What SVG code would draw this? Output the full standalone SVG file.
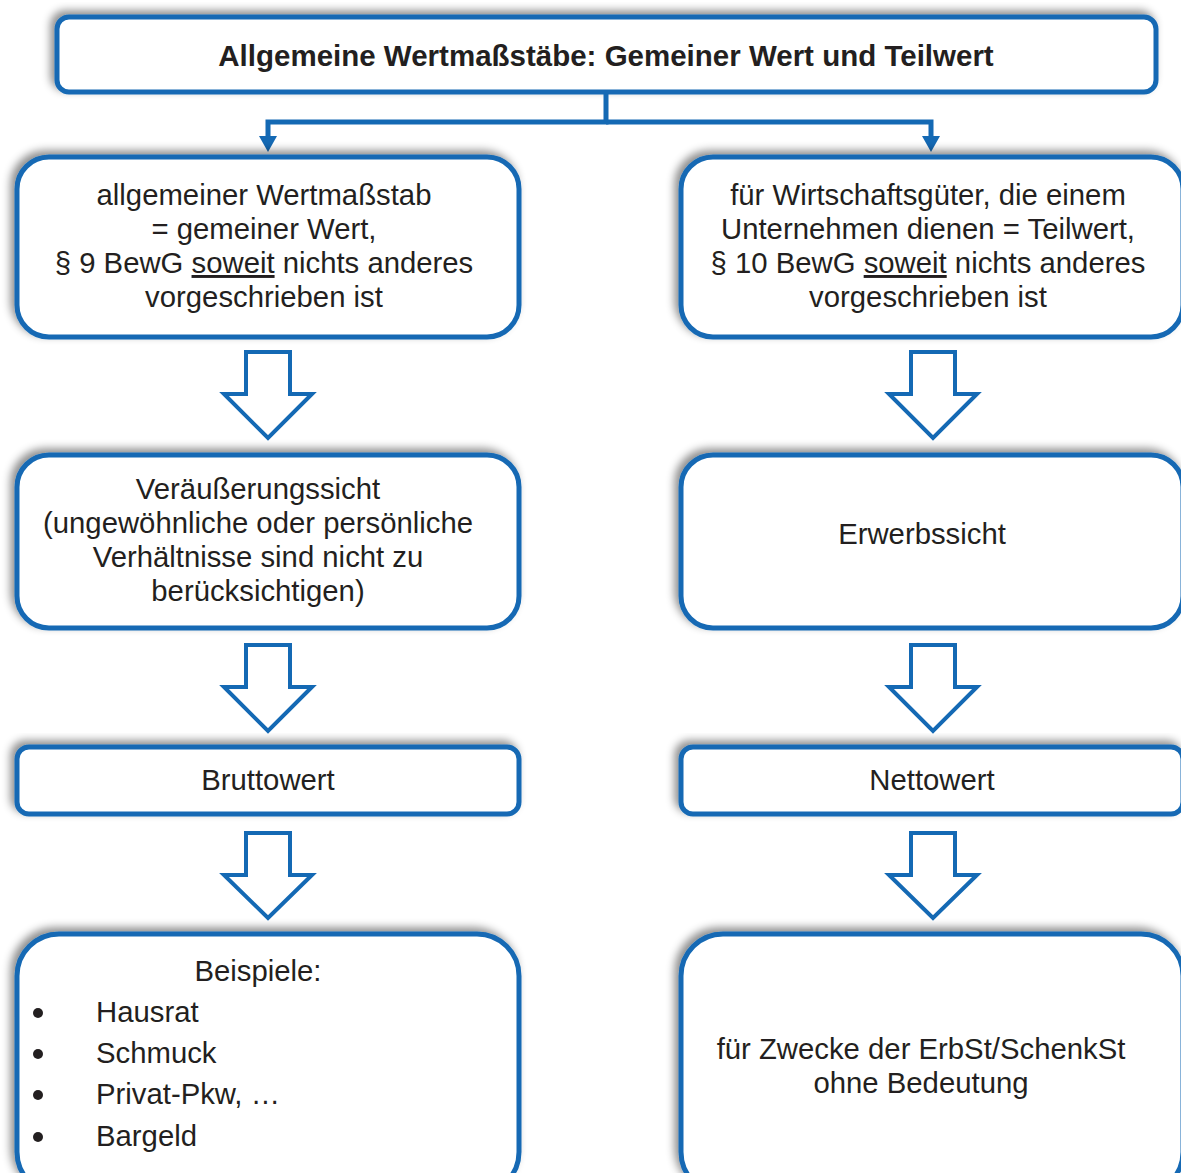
<svg xmlns="http://www.w3.org/2000/svg" width="1181" height="1173" viewBox="0 0 1181 1173">
<defs>
<filter id="sh" x="-10%" y="-20%" width="120%" height="140%">
<feDropShadow dx="-4" dy="-4" stdDeviation="4" flood-color="#000" flood-opacity="0.45"/>
</filter>
</defs>
<style>
.box{fill:#fff;stroke:#1469b4;stroke-width:5;filter:url(#sh)}
.t{font-family:"Liberation Sans",Arial,sans-serif;font-size:29.3px;fill:#231f20;text-anchor:middle}
.tb{font-weight:bold;font-size:29.5px}
.l{text-anchor:start}
.bar{fill:#fff;stroke:#1469b4;stroke-width:4;stroke-linejoin:miter}
.con{fill:none;stroke:#1469b4;stroke-width:5}
</style>
<g id="top">
<rect class="box" x="57" y="17" width="1099" height="75" rx="12"/>
<text class="t tb" x="606" y="66">Allgemeine Wertmaßstäbe: Gemeiner Wert und Teilwert</text>
</g>
<g id="connectors">
<path class="con" d="M606,93 V122 H268 V140"/>
<path class="con" d="M606,122 H931 V140"/>
<path d="M259,136 L277,136 L268,152 Z" fill="#1469b4"/>
<path d="M922,136 L940,136 L931,152 Z" fill="#1469b4"/>
<path class="bar" d="M246,352 H290 V394 H312 L268,438 L224,394 H246 Z"/>
<path class="bar" d="M911,352 H955 V394 H977 L933,438 L889,394 H911 Z"/>
<path class="bar" d="M246,645 H290 V687 H312 L268,731 L224,687 H246 Z"/>
<path class="bar" d="M911,645 H955 V687 H977 L933,731 L889,687 H911 Z"/>
<path class="bar" d="M246,833 H290 V875 H312 L268,918 L224,875 H246 Z"/>
<path class="bar" d="M911,833 H955 V875 H977 L933,918 L889,875 H911 Z"/>
</g>
<g id="n-gemeiner">
<rect class="box" x="17" y="157" width="502" height="180" rx="32"/>
<text class="t" x="264" y="205">allgemeiner Wertmaßstab</text>
<text class="t" x="264" y="239">= gemeiner Wert,</text>
<text class="t" x="264" y="273">§ 9 BewG <tspan text-decoration="underline">soweit</tspan> nichts anderes</text>
<text class="t" x="264" y="307">vorgeschrieben ist</text>
</g>
<g id="n-teilwert">
<rect class="box" x="681" y="157" width="502" height="180" rx="32"/>
<text class="t" x="928" y="205">für Wirtschaftsgüter, die einem</text>
<text class="t" x="928" y="239">Unternehmen dienen = Teilwert,</text>
<text class="t" x="928" y="273">§ 10 BewG <tspan text-decoration="underline">soweit</tspan> nichts anderes</text>
<text class="t" x="928" y="307">vorgeschrieben ist</text>
</g>
<g id="n-veraeusserung">
<rect class="box" x="17" y="455" width="502" height="173" rx="32"/>
<text class="t" x="258" y="499">Veräußerungssicht</text>
<text class="t" x="258" y="533">(ungewöhnliche oder persönliche</text>
<text class="t" x="258" y="567">Verhältnisse sind nicht zu</text>
<text class="t" x="258" y="601">berücksichtigen)</text>
</g>
<g id="n-erwerb">
<rect class="box" x="681" y="455" width="502" height="173" rx="32"/>
<text class="t" x="922" y="544">Erwerbssicht</text>
</g>
<g id="n-brutto">
<rect class="box" x="17" y="747" width="502" height="67" rx="12"/>
<text class="t" x="268" y="790">Bruttowert</text>
</g>
<g id="n-netto">
<rect class="box" x="681" y="747" width="502" height="67" rx="12"/>
<text class="t" x="932" y="790">Nettowert</text>
</g>
<g id="n-beispiele">
<rect class="box" x="17" y="934" width="502" height="260" rx="42"/>
<text class="t" x="258" y="981">Beispiele:</text>
<circle cx="38" cy="1013" r="5" fill="#231f20"/>
<circle cx="38" cy="1054" r="5" fill="#231f20"/>
<circle cx="38" cy="1095" r="5" fill="#231f20"/>
<circle cx="38" cy="1137" r="5" fill="#231f20"/>
<text class="t l" x="96" y="1022">Hausrat</text>
<text class="t l" x="96" y="1063">Schmuck</text>
<text class="t l" x="96" y="1104">Privat-Pkw, …</text>
<text class="t l" x="96" y="1146">Bargeld</text>
</g>
<g id="n-bedeutung">
<rect class="box" x="681" y="934" width="502" height="260" rx="42"/>
<text class="t" x="921" y="1059">für Zwecke der ErbSt/SchenkSt</text>
<text class="t" x="921" y="1093">ohne Bedeutung</text>
</g>
</svg>
